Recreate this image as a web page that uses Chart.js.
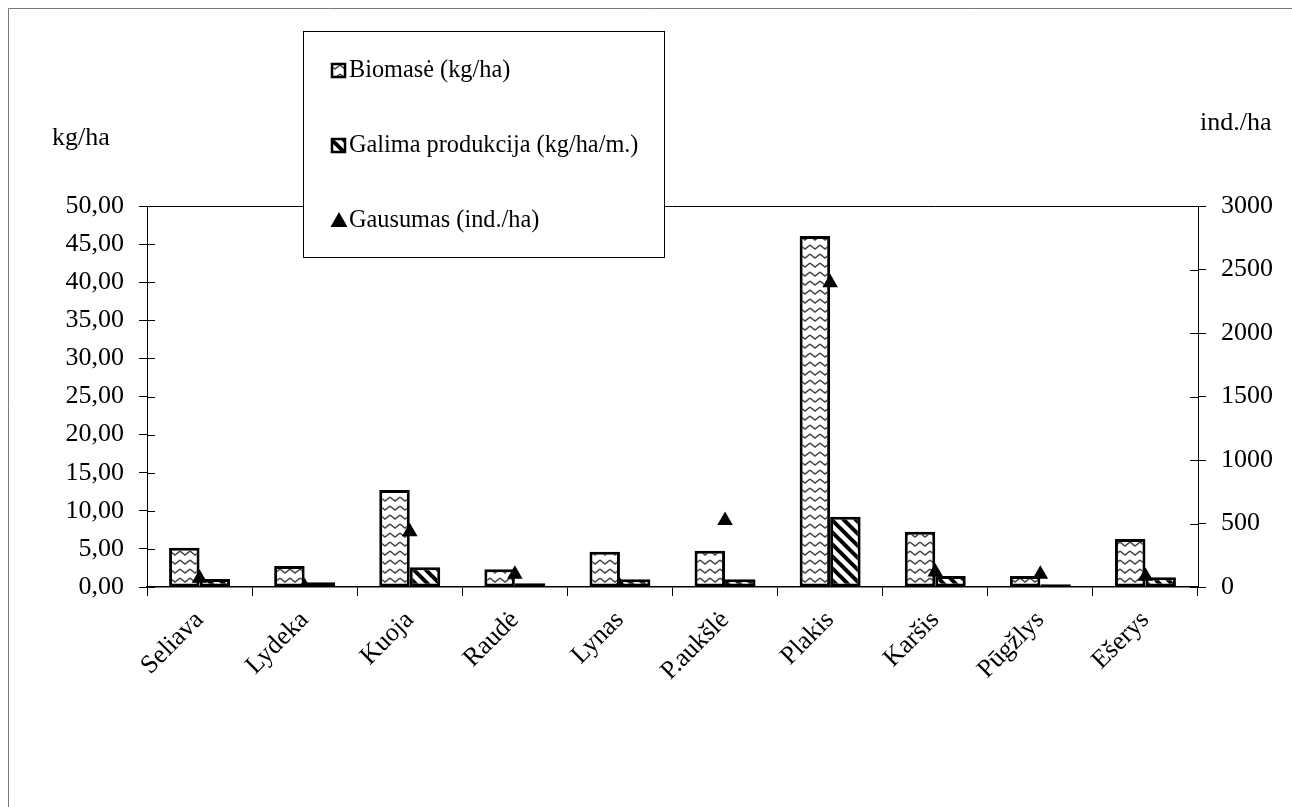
<!DOCTYPE html>
<html>
<head>
<meta charset="utf-8">
<script src="https://cdn.jsdelivr.net/npm/chart.js@4"></script>
<style>
  body { margin: 0; background: #fff; }
  #wrap { width: 1292px; height: 807px; position: relative; }
</style>
</head>
<body>
<div id="wrap"><canvas id="chart"></canvas></div>
<script>
const categories = ['Seliava', 'Lydeka', 'Kuoja', 'Raudė', 'Lynas', 'P.aukšlė', 'Plakis', 'Karšis', 'Pūgžlys', 'Ešerys'];
const biomase = [5.16, 2.76, 12.73, 2.32, 4.63, 4.76, 46.06, 7.26, 1.44, 6.30];
const produkcija = [1.05, 0.62, 2.59, 0.49, 1.01, 1.01, 9.23, 1.44, 0.35, 1.27];
const gausumas = [68, 2, 435, 100, 6, 524, 2396, 118, 101, 84];

const seriesNames = ['Biomasė (kg/ha)', 'Galima produkcija (kg/ha/m.)', 'Gausumas (ind./ha)'];
const leftTitle = 'kg/ha';
const rightTitle = 'ind./ha';

const FONT = 'Liberation Serif, Times New Roman, serif';

// wavy grey pattern for biomass
function makeWave() {
    const c = document.createElement('canvas');
    c.width = 10; c.height = 9;
    const g = c.getContext('2d');
    g.fillStyle = '#fff';
    g.fillRect(0, 0, 10, 9);
    g.strokeStyle = '#444';
    g.lineWidth = 1.5;
    g.beginPath();
    g.moveTo(0, 2);
    g.lineTo(5, 6);
    g.lineTo(10, 2);
    g.stroke();
    return g.createPattern(c, 'repeat');
}

// diagonal black stripes for production
function makeStripes() {
    const c = document.createElement('canvas');
    c.width = 12; c.height = 12;
    const g = c.getContext('2d');
    g.fillStyle = '#fff';
    g.fillRect(0, 0, 12, 12);
    g.strokeStyle = '#000';
    g.lineWidth = 4;
    for (const k of [-12, 0, 12]) {
        g.beginPath();
        g.moveTo(-2, -2 + k);
        g.lineTo(14, 14 + k);
        g.stroke();
    }
    return g.createPattern(c, 'repeat');
}

const ctx = document.getElementById('chart').getContext('2d');
const wave = makeWave();
const stripes = makeStripes();

const extras = {
    id: 'extras',
    beforeDatasetsDraw(chart) {
        const a = chart.chartArea;
        const g = chart.ctx;
        g.save();
        g.strokeStyle = '#000';
        g.lineWidth = 1;
        g.beginPath();
        g.moveTo(a.left, a.top + 0.5);
        g.lineTo(a.right, a.top + 0.5);
        // inner half of the y ticks (they cross the axis)
        for (const id of ['y', 'y1']) {
            const s = chart.scales[id];
            const dir = id === 'y' ? 1 : -1;
            const x0 = id === 'y' ? a.left : a.right;
            s.ticks.forEach(t => {
                const py = Math.round(s.getPixelForValue(t.value)) + 0.5;
                g.moveTo(x0, py);
                g.lineTo(x0 + dir * 8, py);
            });
        }
        g.stroke();
        g.restore();
    },
    afterDraw(chart) {
        const g = chart.ctx;
        g.save();
        // outer frame (left and top edges)
        g.strokeStyle = '#777';
        g.lineWidth = 1;
        g.beginPath();
        g.moveTo(8.5, 807);
        g.lineTo(8.5, 8.5);
        g.lineTo(1292, 8.5);
        g.stroke();

        // axis titles
        g.fillStyle = '#000';
        g.font = '26px ' + FONT;
        g.textBaseline = 'middle';
        g.textAlign = 'left';
        g.fillText(leftTitle, 52, 138);
        g.fillText(rightTitle, 1200, 123);

        // legend box
        g.fillStyle = '#fff';
        g.fillRect(303, 31, 361, 226);
        g.strokeStyle = '#000';
        g.lineWidth = 1;
        g.strokeRect(303.5, 31.5, 361, 226);

        const rows = [70, 145, 220];
        const fills = [wave, stripes];
        for (let i = 0; i < 2; i++) {
            g.fillStyle = fills[i];
            g.fillRect(331, rows[i] - 7, 15, 15);
            g.strokeStyle = '#000';
            g.lineWidth = 2.5;
            g.strokeRect(332, rows[i] - 6, 13, 13);
        }
        g.fillStyle = '#000';
        g.beginPath();
        g.moveTo(339, rows[2] - 8);
        g.lineTo(347.5, rows[2] + 7);
        g.lineTo(330.5, rows[2] + 7);
        g.closePath();
        g.fill();

        g.fillStyle = '#000';
        g.font = '24.3px ' + FONT;
        g.textAlign = 'left';
        g.textBaseline = 'middle';
        seriesNames.forEach((n, i) => g.fillText(n, 349, rows[i] + 1));
        g.restore();
    }
};

new Chart(ctx, {
    type: 'bar',
    data: {
        labels: categories,
        datasets: [{
            type: 'line',
            label: seriesNames[2],
            data: gausumas,
            yAxisID: 'y1',
            showLine: false,
            pointStyle: 'triangle',
            pointRadius: 9,
            pointBackgroundColor: '#000',
            pointBorderColor: '#000',
            pointBorderWidth: 0,
            order: 0
        }, {
            label: seriesNames[0],
            data: biomase,
            yAxisID: 'y',
            backgroundColor: wave,
            borderColor: '#000',
            borderWidth: 3,
            borderSkipped: false,
            order: 1
        }, {
            label: seriesNames[1],
            data: produkcija,
            yAxisID: 'y',
            backgroundColor: stripes,
            borderColor: '#000',
            borderWidth: 3,
            borderSkipped: false,
            order: 2
        }]
    },
    options: {
        responsive: true,
        maintainAspectRatio: false,
        animation: false,
        categoryPercentage: 0.58,
        barPercentage: 1.0,
        layout: { padding: { top: 206, left: 0, right: 0, bottom: 0 } },
        plugins: {
            legend: { display: false },
            tooltip: { enabled: false }
        },
        scales: {
            x: {
                offset: true,
                grid: { offset: true, drawOnChartArea: false, tickLength: 9, color: '#000' },
                border: { color: '#000', width: 1.5 },
                ticks: {
                    maxRotation: 45,
                    minRotation: 45,
                    padding: 9,
                    color: '#000',
                    font: { family: FONT, size: 26 }
                },
                afterFit: s => { s.height = 220; }
            },
            y: {
                position: 'left',
                min: 0,
                max: 50,
                grid: { drawOnChartArea: false, tickLength: 8, color: '#000' },
                border: { color: '#000', width: 1 },
                ticks: {
                    stepSize: 5,
                    padding: 15,
                    color: '#000',
                    font: { family: FONT, size: 26 },
                    callback: v => v.toFixed(2).replace('.', ',')
                },
                afterFit: s => { s.width = 147; }
            },
            y1: {
                position: 'right',
                min: 0,
                max: 3000,
                grid: { drawOnChartArea: false, tickLength: 8, color: '#000' },
                border: { color: '#000', width: 1 },
                ticks: {
                    stepSize: 500,
                    padding: 15,
                    color: '#000',
                    font: { family: FONT, size: 26 },
                    callback: v => String(v)
                },
                afterFit: s => { s.width = 94; }
            }
        }
    },
    plugins: [extras]
});
</script>
</body>
</html>
